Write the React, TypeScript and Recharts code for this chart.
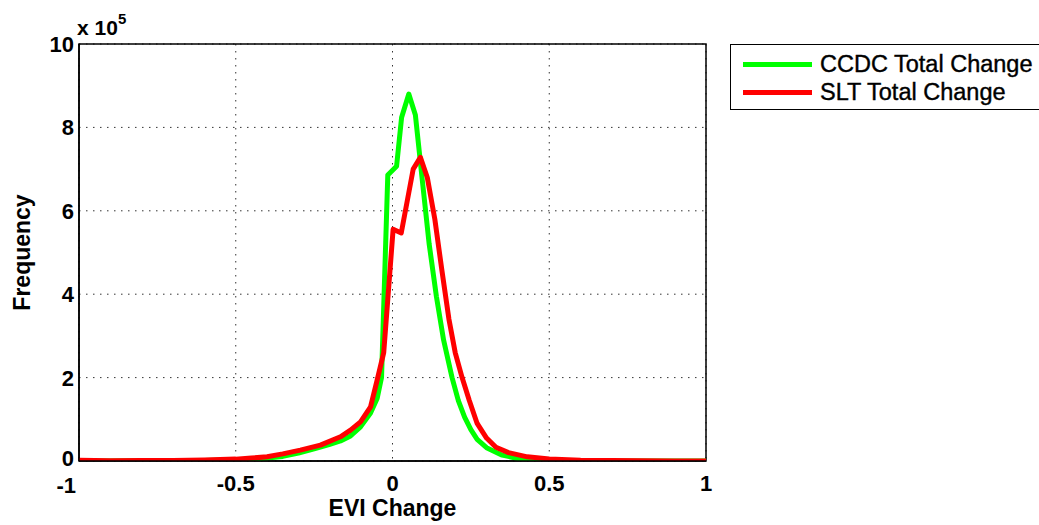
import React from "react";
import { LineChart, Line, XAxis, YAxis, CartesianGrid, ReferenceArea, Label } from "recharts";

// CCDC Total Change (green) — x: EVI change, y: frequency
const ccdcX = [-1, -0.9, -0.8, -0.7, -0.6, -0.5, -0.45, -0.4, -0.35, -0.3, -0.25, -0.2, -0.166, -0.134, -0.102, -0.07, -0.049, -0.035, -0.015, 0.013, 0.029, 0.052, 0.073, 0.095, 0.117, 0.14, 0.163, 0.19, 0.21, 0.23, 0.25, 0.27, 0.3, 0.35, 0.4, 0.45, 0.5, 0.6, 0.7, 0.8, 0.9, 1.0];
const ccdcY = [0, 200, 400, 800, 1500, 3000, 4500, 7000, 11000, 19000, 29000, 40000, 48000, 60000, 82000, 115000, 150000, 200000, 686000, 707000, 824000, 880000, 830000, 674000, 520000, 395000, 290000, 200000, 145000, 105000, 75000, 52000, 32000, 14000, 6000, 2500, 1000, 400, 200, 100, 0, 0];

// SLT Total Change (red)
const sltX = [-1, -0.9, -0.8, -0.7, -0.6, -0.5, -0.45, -0.4, -0.35, -0.294, -0.23, -0.166, -0.134, -0.102, -0.07, -0.049, -0.028, 0.002, 0.028, 0.066, 0.089, 0.111, 0.135, 0.157, 0.18, 0.2, 0.222, 0.245, 0.27, 0.3, 0.33, 0.37, 0.43, 0.5, 0.6, 0.7, 0.8, 0.9, 1.0];
const sltY = [2000, 700, 1000, 1500, 2500, 4500, 7000, 10000, 17000, 26000, 38000, 58000, 74000, 94000, 130000, 194000, 260000, 556000, 547000, 700000, 728000, 680000, 580000, 460000, 340000, 260000, 200000, 145000, 90000, 55000, 33000, 20000, 10000, 5000, 2000, 1000, 500, 300, 100];

const seriesNames = ["CCDC Total Change", "SLT Total Change"];
const seriesColors = ["#00ff00", "#ff0000"];

const xTicks = [-1, -0.5, 0, 0.5, 1];
const yTicks = [0, 200000, 400000, 600000, 800000, 1000000];
const xLabel = "EVI Change";
const yLabel = "Frequency";
const exponent = "5";

const ccdcData = ccdcX.map((x, i) => ({ x, y: ccdcY[i] }));
const sltData = sltX.map((x, i) => ({ x, y: sltY[i] }));

const FONT = "'Liberation Sans', Arial, Helvetica, sans-serif";
const TICK_SIZE = 22;
const LABEL_SIZE = 23;

const XTick = (props: any) => {
  const { x, y, payload } = props;
  const first = payload.value === -1;
  return (
    <text
      x={first ? x - 3 : x}
      y={y}
      dy={first ? 17 : 15}
      textAnchor={first ? "end" : "middle"}
      fontFamily={FONT}
      fontWeight="bold"
      fontSize={TICK_SIZE}
      fill="#000"
    >
      {String(payload.value)}
    </text>
  );
};

const YTick = (props: any) => {
  const { x, y, payload } = props;
  const isZero = payload.value === 0;
  return (
    <text
      x={x}
      y={isZero ? y - 3 : y}
      dy={8}
      textAnchor="end"
      fontFamily={FONT}
      fontWeight="bold"
      fontSize={TICK_SIZE}
      fill="#000"
    >
      {String(payload.value / 100000)}
    </text>
  );
};

export default function App() {
  return (
    <div style={{ position: "absolute", left: 0, top: 0, width: 1039, height: 525, overflow: "hidden", background: "#fff" }}>
      <LineChart width={1039} height={525} margin={{ top: 44, right: 333, bottom: 0, left: 0 }}>
        <CartesianGrid stroke="#333" strokeDasharray="1.5 5.5" strokeWidth={1} />
        <XAxis
          dataKey="x"
          type="number"
          domain={[-1, 1]}
          ticks={xTicks}
          height={64}
          tickLine={false}
          tickSize={0}
          tickMargin={15}
          axisLine={{ stroke: "#000", strokeWidth: 1.5 }}
          tick={<XTick />}
          allowDataOverflow
        >
          <Label
            content={(p: any) => {
              const vb = p.viewBox;
              return (
                <text x={vb.x + vb.width / 2} y={vb.y + 55} textAnchor="middle" fontFamily={FONT} fontWeight="bold" fontSize={LABEL_SIZE} fill="#000">
                  {xLabel}
                </text>
              );
            }}
          />
        </XAxis>
        <YAxis
          type="number"
          domain={[0, 1000000]}
          ticks={yTicks}
          width={79}
          tickLine={false}
          tickSize={0}
          tickMargin={5}
          axisLine={{ stroke: "#000", strokeWidth: 1.5 }}
          tick={<YTick />}
          allowDataOverflow
        >
          <Label
            content={(p: any) => {
              const vb = p.viewBox;
              const cx = vb.x + 22;
              const cy = vb.y + vb.height / 2;
              return (
                <g>
                  <text x={cx} y={cy} transform={`rotate(-90 ${cx} ${cy})`} textAnchor="middle" dominantBaseline="central" fontFamily={FONT} fontWeight="bold" fontSize={LABEL_SIZE} fill="#000">
                    {yLabel}
                  </text>
                  <text x={vb.x + vb.width - 2} y={vb.y - 9} fontFamily={FONT} fontWeight="bold" fontSize={21} fill="#000">
                    x 10
                    <tspan dy={-11} fontSize={15}>{exponent}</tspan>
                  </text>
                </g>
              );
            }}
          />
        </YAxis>
        <ReferenceArea x1={-1} x2={1} y1={0} y2={1000000} fill="none" stroke="#000" strokeWidth={1.5} />
        <Line data={ccdcData} dataKey="y" name={seriesNames[0]} stroke={seriesColors[0]} strokeWidth={5} dot={false} isAnimationActive={false} strokeLinejoin="round" />
        <Line data={sltData} dataKey="y" name={seriesNames[1]} stroke={seriesColors[1]} strokeWidth={5} dot={false} isAnimationActive={false} strokeLinejoin="round" />
      </LineChart>
      <div
        style={{
          position: "absolute",
          left: 730,
          top: 44,
          width: 330,
          height: 66,
          border: "1.5px solid #000",
          background: "#fff",
          boxSizing: "border-box",
          fontFamily: FONT,
          fontSize: 23.5,
        }}
      >
        {seriesNames.map((n, i) => (
          <div key={n} style={{ position: "absolute", left: 12, top: 5 + i * 28, height: 28, display: "flex", alignItems: "center", whiteSpace: "nowrap" }}>
            <span style={{ display: "inline-block", width: 69, height: 5, background: seriesColors[i], marginRight: 8 }} />
            <span style={{ color: "#000", WebkitTextStroke: "0.4px #000" }}>{n}</span>
          </div>
        ))}
      </div>
    </div>
  );
}
